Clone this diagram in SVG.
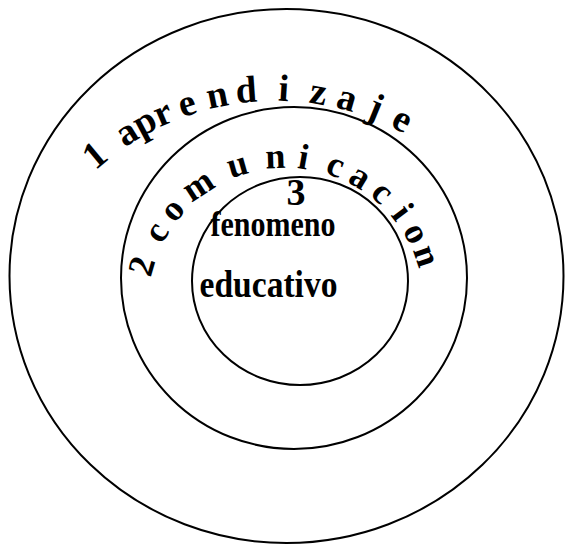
<svg xmlns="http://www.w3.org/2000/svg" xmlns:xlink="http://www.w3.org/1999/xlink" width="565" height="544" viewBox="0 0 565 544">
  <style>
    .ring { fill: none; stroke: #000; stroke-width: 2; }
    .arc { font-family: "Liberation Serif", "Times New Roman", serif; font-weight: bold; fill: #000; }
    .core { font-family: "Liberation Serif", "Times New Roman", serif; font-weight: bold; fill: #000; text-anchor: middle; }
  </style>
  <defs>
    <path id="arc1" d="M76.8,189.7 A268,268 0 0,1 448.3,163.7"/>
    <path id="arc2" d="M150.1,282 A138,138 0 0,1 421.9,282"/>
  </defs>
  <rect width="565" height="544" fill="#fff"/>
  <g id="aprendizaje">
    <ellipse class="ring" cx="286.5" cy="276" rx="277" ry="267"/>
    <text class="arc" font-size="38"><textPath xlink:href="#arc1" href="#arc1" startOffset="26.5"><tspan letter-spacing="4.5">1 </tspan><tspan letter-spacing="0">ap</tspan><tspan letter-spacing="8">r</tspan><tspan letter-spacing="11">e</tspan><tspan letter-spacing="7">n</tspan><tspan letter-spacing="20">di</tspan><tspan letter-spacing="10">z</tspan><tspan letter-spacing="13">aje</tspan></textPath></text>
  </g>
  <g id="comunicacion">
    <ellipse class="ring" cx="294" cy="278" rx="173" ry="171"/>
    <text class="arc" font-size="36"><textPath xlink:href="#arc2" href="#arc2" startOffset="4"><tspan letter-spacing="4">2 </tspan><tspan letter-spacing="8.5">co</tspan><tspan letter-spacing="16">mu</tspan><tspan letter-spacing="11">n</tspan><tspan letter-spacing="18">i</tspan><tspan letter-spacing="8">ca</tspan><tspan letter-spacing="13">c</tspan><tspan letter-spacing="9.6">i</tspan><tspan letter-spacing="4">on</tspan></textPath></text>
  </g>
  <g id="fenomeno-educativo">
    <ellipse class="ring" cx="300" cy="281" rx="108" ry="104"/>
    <text class="core" x="296" y="205" font-size="38" font-weight="normal">3</text>
    <text class="core" x="273" y="236" font-size="35" textLength="125" lengthAdjust="spacingAndGlyphs">fenomeno</text>
    <text class="core" x="268.5" y="297" font-size="37" textLength="138" lengthAdjust="spacingAndGlyphs">educativo</text>
  </g>
</svg>
